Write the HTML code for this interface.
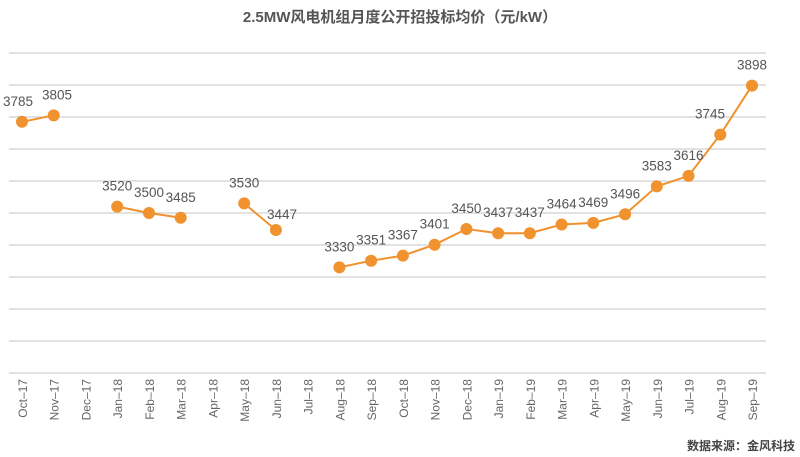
<!DOCTYPE html>
<html><head><meta charset="utf-8"><style>
body{margin:0;background:#fff;}
svg{display:block;}
</style></head><body>
<svg width="800" height="457" xmlns="http://www.w3.org/2000/svg" font-family="'Liberation Sans','Noto Sans CJK SC',sans-serif">
<text x="400" y="22" text-anchor="middle" font-size="15" font-weight="bold" fill="#555">2.5MW风电机组月度公开招投标均价（元/kW）</text>
<g stroke="#d9d9d9" stroke-width="1.5">
<line x1="9" x2="766" y1="53" y2="53"/><line x1="9" x2="766" y1="85" y2="85"/><line x1="9" x2="766" y1="117" y2="117"/><line x1="9" x2="766" y1="149" y2="149"/><line x1="9" x2="766" y1="181" y2="181"/><line x1="9" x2="766" y1="213" y2="213"/><line x1="9" x2="766" y1="245" y2="245"/><line x1="9" x2="766" y1="277" y2="277"/><line x1="9" x2="766" y1="309" y2="309"/><line x1="9" x2="766" y1="341" y2="341"/><line x1="9" x2="766" y1="373" y2="373"/>
</g>
<g font-size="12" fill="#666" text-anchor="end">
<text transform="translate(27,379) rotate(-90)">Oct–17</text>
<text transform="translate(58.7,379) rotate(-90)">Nov–17</text>
<text transform="translate(90.5,379) rotate(-90)">Dec–17</text>
<text transform="translate(122.2,379) rotate(-90)">Jan–18</text>
<text transform="translate(154,379) rotate(-90)">Feb–18</text>
<text transform="translate(185.7,379) rotate(-90)">Mar–18</text>
<text transform="translate(217.4,379) rotate(-90)">Apr–18</text>
<text transform="translate(249.2,379) rotate(-90)">May–18</text>
<text transform="translate(280.9,379) rotate(-90)">Jun–18</text>
<text transform="translate(312.7,379) rotate(-90)">Jul–18</text>
<text transform="translate(344.4,379) rotate(-90)">Aug–18</text>
<text transform="translate(376.1,379) rotate(-90)">Sep–18</text>
<text transform="translate(407.9,379) rotate(-90)">Oct–18</text>
<text transform="translate(439.6,379) rotate(-90)">Nov–18</text>
<text transform="translate(471.4,379) rotate(-90)">Dec–18</text>
<text transform="translate(503.1,379) rotate(-90)">Jan–19</text>
<text transform="translate(534.8,379) rotate(-90)">Feb–19</text>
<text transform="translate(566.6,379) rotate(-90)">Mar–19</text>
<text transform="translate(598.3,379) rotate(-90)">Apr–19</text>
<text transform="translate(630.1,379) rotate(-90)">May–19</text>
<text transform="translate(661.8,379) rotate(-90)">Jun–19</text>
<text transform="translate(693.5,379) rotate(-90)">Jul–19</text>
<text transform="translate(725.3,379) rotate(-90)">Aug–19</text>
<text transform="translate(757,379) rotate(-90)">Sep–19</text>
</g>
<g fill="none" stroke="#f0922e" stroke-width="2">
<polyline points="22,121.8 53.7,115.4"/>
<polyline points="117.2,206.6 149,213 180.7,217.8"/>
<polyline points="244.2,203.4 275.9,230"/>
<polyline points="339.4,267.4 371.1,260.7 402.9,255.6 434.6,244.7 466.4,229 498.1,233.2 529.8,233.2 561.6,224.5 593.3,222.9 625.1,214.3 656.8,186.4 688.5,175.9 720.3,134.6 752,85.6"/>
</g>
<g fill="#f0922e">
<circle cx="22" cy="121.8" r="6"/><circle cx="53.7" cy="115.4" r="6"/>
<circle cx="117.2" cy="206.6" r="6"/><circle cx="149" cy="213" r="6"/><circle cx="180.7" cy="217.8" r="6"/>
<circle cx="244.2" cy="203.4" r="6"/><circle cx="275.9" cy="230" r="6"/>
<circle cx="339.4" cy="267.4" r="6"/><circle cx="371.1" cy="260.7" r="6"/><circle cx="402.9" cy="255.6" r="6"/><circle cx="434.6" cy="244.7" r="6"/><circle cx="466.4" cy="229" r="6"/><circle cx="498.1" cy="233.2" r="6"/><circle cx="529.8" cy="233.2" r="6"/><circle cx="561.6" cy="224.5" r="6"/><circle cx="593.3" cy="222.9" r="6"/><circle cx="625.1" cy="214.3" r="6"/><circle cx="656.8" cy="186.4" r="6"/><circle cx="688.5" cy="175.9" r="6"/><circle cx="720.3" cy="134.6" r="6"/><circle cx="752" cy="85.6" r="6"/>
</g>
<g font-size="13.5" fill="#555" text-anchor="middle">
<text x="18" y="105.8">3785</text><text x="57" y="99.4">3805</text>
<text x="117.2" y="190.6">3520</text><text x="149" y="197">3500</text><text x="180.7" y="201.8">3485</text>
<text x="244.2" y="187.4">3530</text><text x="282" y="219">3447</text>
<text x="339.4" y="251.4">3330</text><text x="371.1" y="244.7">3351</text><text x="402.9" y="239.6">3367</text><text x="434.6" y="228.7">3401</text><text x="466.4" y="213">3450</text><text x="498.1" y="217.2">3437</text><text x="529.8" y="217.2">3437</text><text x="561.6" y="208.5">3464</text><text x="593.3" y="206.9">3469</text><text x="625.1" y="198.3">3496</text><text x="656.8" y="170.4">3583</text><text x="688.5" y="159.9">3616</text><text x="710" y="118.6">3745</text><text x="752" y="69.6">3898</text>
</g>
<text x="795" y="450" text-anchor="end" font-size="12" font-weight="bold" fill="#444">数据来源：金风科技</text>
</svg>
</body></html>
